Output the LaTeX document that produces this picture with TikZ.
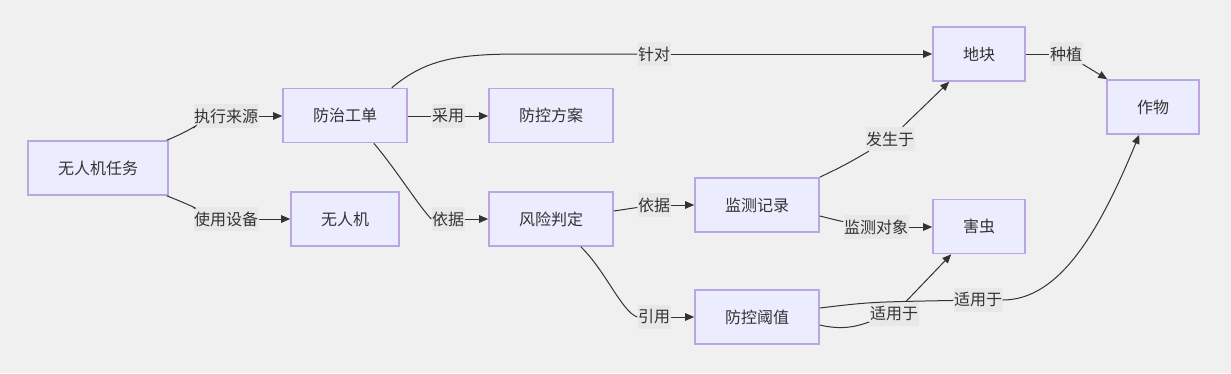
\documentclass[tikz,border=0pt]{standalone}
\usepackage{fontspec}
\newfontfamily\cjk{Noto Sans CJK SC}
\usetikzlibrary{arrows.meta}
\definecolor{bgc}{RGB}{240,240,240}
\definecolor{nodefill}{RGB}{236,236,255}
\definecolor{nodeborder}{RGB}{186,166,228}
\definecolor{labelbg}{RGB}{232,232,232}
\definecolor{edgec}{RGB}{51,51,51}
\tikzset{
  box/.style={draw=nodeborder, line width=1.6pt, fill=nodefill, font=\cjk\fontsize{16}{19}\selectfont, text=black!80, minimum height=54pt, inner xsep=30pt, inner ysep=0pt},
  elabel/.style={fill=labelbg, text=black!80, font=\cjk\fontsize{16}{19}\selectfont, minimum height=24pt, inner xsep=0.5pt, inner ysep=0pt},
  link/.style={draw=edgec, line width=1pt},
  arrowlink/.style={link, -{Triangle[length=9pt,width=7.5pt]}},
}
\begin{document}
\begin{tikzpicture}[x=1pt,y=-1pt]
\fill[bgc] (0,0) rectangle (1231,373);
\useasboundingbox (0,0) rectangle (1231,373);

% nodes
\node[box] (t) at (98,168) {无人机任务};
\node[box] (gd) at (345,115.5) {防治工单};
\node[box] (uav) at (345,219) {无人机};
\node[box] (fa) at (551,115.5) {防控方案};
\node[box] (fx) at (551,219) {风险判定};
\node[box] (jc) at (757,205) {监测记录};
\node[box] (yz) at (757,317) {防控阈值};
\node[box] (dk) at (979,54) {地块};
\node[box] (hc) at (979,226.5) {害虫};
\node[box] (zw) at (1153,107) {作物};

% edge labels
\node[elabel] (l1) at (226,116) {执行来源};
\node[elabel] (l2) at (226,219) {使用设备};
\node[elabel] (l3) at (448,116) {采用};
\node[elabel] (l4) at (654,54) {针对};
\node[elabel] (l5) at (448,219) {依据};
\node[elabel] (l6) at (654,205) {依据};
\node[elabel] (l7) at (654,317) {引用};
\node[elabel] (l8) at (890,139) {发生于};
\node[elabel] (l9) at (876,227) {监测对象};
\node[elabel] (l10) at (894,314) {适用于};
\node[elabel] (l11) at (978,300) {适用于};
\node[elabel] (l12) at (1066,54) {种植};

% edges: source to label
\draw[link] ([xshift=-2pt]t.north east) .. controls (192,130) and (200,122) .. (l1.south west);
\draw[link] ([xshift=-2pt]t.south east) .. controls (190,205) and (200,210) .. (l2);
\draw[link] (gd.east |- l3) -- (l3);
\draw[link] ([xshift=-16pt]gd.north east) .. controls (425,60) and (455,54) .. (520,54) -- (l4);
\draw[link] ([xshift=-34pt]gd.south east) .. controls (395,168) and (418,205) .. (l5.west);
\draw[link] ([yshift=8pt]fx.east) -- (l6);
\draw[link] ([xshift=-33pt]fx.south east) .. controls (605,270) and (622,312) .. (l7.west);
\draw[link] (jc.north east) .. controls (845,165) .. (l8);
\draw[link] ([yshift=-11pt]jc.east) .. controls (840,221) .. (l9);
\draw[link] ([yshift=-8pt]yz.east) .. controls (845,331) and (860,325) .. (l10);
\draw[link] ([yshift=9pt]yz.east) .. controls (870,302) .. (l11);
\draw[link] (dk.east) -- (l12);

% edges: label to target
\draw[arrowlink] (l1) -- (gd.west |- l1);
\draw[arrowlink] (l2) -- (uav.west |- l2);
\draw[arrowlink] (l3) -- (fa.west |- l3);
\draw[arrowlink] (l4) -- (dk.west);
\draw[arrowlink] (l5) -- (fx.west);
\draw[arrowlink] (l6) -- (jc.west);
\draw[arrowlink] (l7) -- (yz.west);
\draw[arrowlink] (l8) -- ([xshift=17pt]dk.south west);
\draw[arrowlink] (l9) -- (hc.west |- l9);
\draw[arrowlink] (l10) -- ([xshift=19pt]hc.south west);
\draw[arrowlink] (l11) .. controls (1060,300) and (1100,230) .. ([xshift=33pt]zw.south west);
\draw[arrowlink] (l12) -- ([xshift=1pt]zw.north west);
\end{tikzpicture}
\end{document}
